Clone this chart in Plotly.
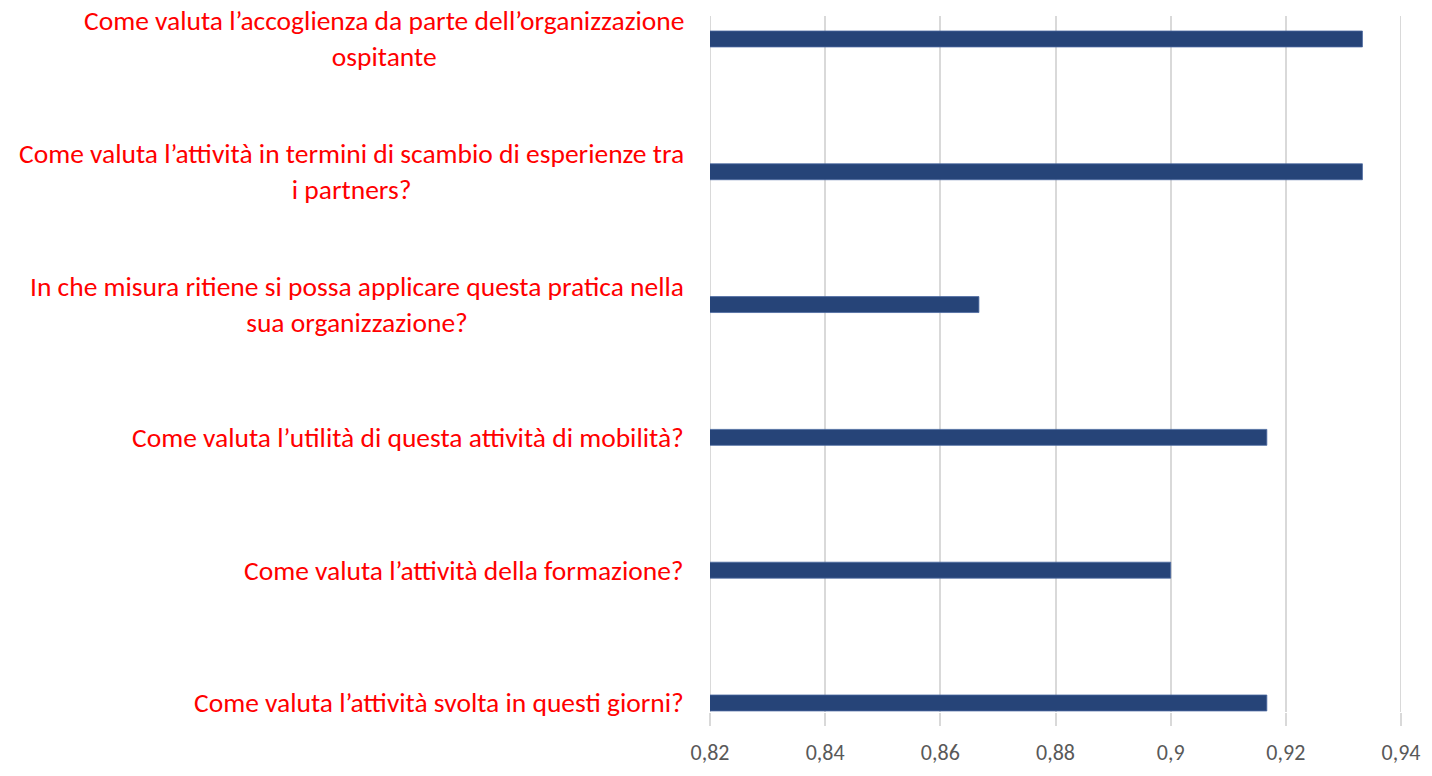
import plotly.graph_objects as go

categories = [
    "Come valuta l’attività svolta in questi giorni?",
    "Come valuta l’attività della formazione?",
    "Come valuta l’utilità di questa attività di mobilità?",
    "In che misura ritiene si possa applicare questa pratica nella<br>sua organizzazione?",
    "Come valuta l’attività in termini di scambio di esperienze tra<br>i partners?",
    "Come valuta l’accoglienza da parte dell’organizzazione<br>ospitante",
]
values = [0.9167, 0.9, 0.9167, 0.8667, 0.9333, 0.9333]
tick_vals = [0.82, 0.84, 0.86, 0.88, 0.90, 0.92, 0.94]

W, H = 1432, 776
ml, mr, mt, mb = 710, 31, 16, 64
GRID = "#d9d9d9"

fig = go.Figure()
fig.add_trace(go.Bar(
    y=list(range(len(categories))), x=values, orientation="h",
    marker=dict(color="#264478", line=dict(color="#4a68a0", width=0.8)),
    width=0.12, hoverinfo="x",
))

FONT = "Carlito, Calibri, 'Liberation Sans Narrow', 'Liberation Sans', sans-serif"

for i, c in enumerate(categories):
    fig.add_annotation(
        x=-24 / (W - ml - mr), xref="paper", y=i, yref="y",
        text=c, showarrow=False, xanchor="right", yanchor="middle",
        align="center", font=dict(family=FONT, size=27.5, color="#ff0000"),
    )

# edge gridlines (Plotly omits gridlines on the plot-area border)
for xv in (tick_vals[0], tick_vals[-1]):
    fig.add_shape(type="line", xref="x", yref="paper", x0=xv, x1=xv, y0=0, y1=1,
                  line=dict(color=GRID, width=2), layer="below")

fig.update_layout(
    width=W, height=H, margin=dict(l=ml, r=mr, t=mt, b=mb, autoexpand=False),
    plot_bgcolor="white", paper_bgcolor="white",
    separators=",.", showlegend=False,
    xaxis=dict(range=[0.82, 0.94], tickvals=tick_vals, automargin=False,
               showgrid=True, gridcolor=GRID, gridwidth=2,
               zeroline=False, showline=False,
               ticks="outside", ticklen=13, tickcolor=GRID, tickwidth=2,
               ticklabelstandoff=8,
               tickfont=dict(family=FONT, size=22, color="#595959")),
    yaxis=dict(range=[-0.068, 5.173], showticklabels=False, showgrid=False,
               zeroline=False, showline=False, ticks=""),
)

fig.write_html("out.html", config={"displayModeBar": False},
               post_script="document.body.style.margin='0';")
